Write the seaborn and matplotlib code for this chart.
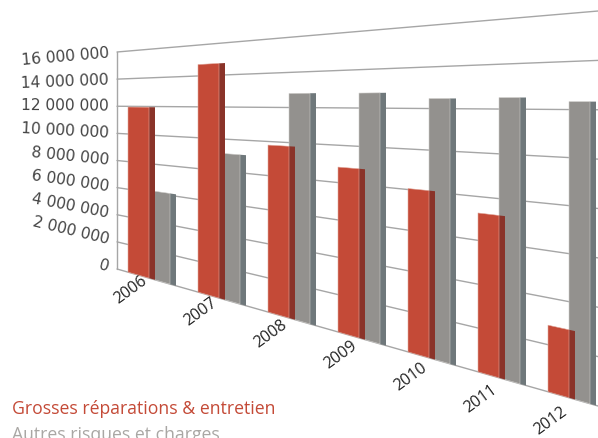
import math
import matplotlib
matplotlib.use("Agg")
import matplotlib.pyplot as plt
import matplotlib.transforms as mtransforms
from matplotlib.patches import Rectangle
import pandas as pd
import seaborn as sns

years = ["2006", "2007", "2008", "2009", "2010", "2011", "2012"]
reparations = [11950000, 14740000, 9790000, 8830000, 8050000, 7250000, 2830000]
autres = [6130000, 9100000, 12800000, 12780000, 12480000, 12510000, 12330000]
grid_values = [0, 2000000, 4000000, 6000000, 8000000, 10000000, 12000000, 14000000, 16000000]
grid_labels = ["0", "2 000 000", "4 000 000", "6 000 000", "8 000 000",
               "10 000 000", "12 000 000", "14 000 000", "16 000 000"]

RED, RED_SIDE, RED_EDGE = "#C44A37", "#8A3329", "#E2A99D"
GREY, GREY_SIDE, GREY_EDGE = "#93918E", "#6F787B", "#CFCDCA"
GRID = "#A6A6A6"
W, H = 598, 439


class Perspective(mtransforms.Transform):
    """Category position and value to pixels on the receding back wall."""
    input_dims = 2
    output_dims = 2
    is_separable = False
    has_inverse = False

    def transform_non_affine(self, values):
        out = values.copy().astype(float)
        px = 149 + 70 * values[:, 0]
        bottom = 270 + 0.2848 * (px - 117)
        top = 53 - 0.0852 * (px - 117)
        out[:, 0] = px
        out[:, 1] = H - (bottom - values[:, 1] / 16000000 * (bottom - top))
        return out


wall = Perspective()

sns.set_theme(style="white")
fig = plt.figure(figsize=(W / 100, H / 100), dpi=100)
ax = fig.add_axes([0, 0, 1, 1])

df = pd.DataFrame({
    "year": years * 2,
    "value": reparations + autres,
    "serie": ["Grosses réparations & entretien"] * 7 + ["Autres risques et charges"] * 7,
})
sns.barplot(data=df, x="year", y="value", hue="serie", palette=[RED, GREY],
            width=0.6, gap=0, saturation=1, legend=False, ax=ax)

# bars go on the wall, each one gets a darker side face
side = 6 / 70
for container, side_col, edge_col, z in [(ax.containers[0], RED_SIDE, RED_EDGE, 3),
                                         (ax.containers[1], GREY_SIDE, GREY_EDGE, 2)]:
    for bar in container:
        bar.set_transform(wall)
        bar.set_zorder(z + 0.1)
        bar.set_edgecolor(edge_col)
        bar.set_linewidth(0.4)
        bar.set_clip_on(False)
        face = Rectangle((bar.get_x() + bar.get_width(), 0), side, bar.get_height(),
                         facecolor=side_col, edgecolor="none", transform=wall,
                         zorder=z, clip_on=False)
        ax.add_patch(face)

left, right = (117 - 149) / 70, (598 - 149) / 70
for v in grid_values:
    ax.plot([left, right], [v, v], color=GRID, lw=1, transform=wall, zorder=1, clip_on=False)
ax.plot([left, left], [0, 16000000], color=GRID, lw=1, transform=wall, zorder=1, clip_on=False)

# value labels lean with their gridline
label_x = (109 - 149) / 70
for v, text in zip(grid_values, grid_labels):
    slope = 0.2848 - v / 16000000 * 0.37
    ax.text(label_x, v + 60000, text, transform=wall, ha="right", va="center",
            rotation=-math.degrees(math.atan(slope)), rotation_mode="anchor",
            fontsize=11.2, family="DejaVu Sans", color="#444444", clip_on=False)

for i, year in enumerate(years):
    ax.text(i - 18 / 70, -1150000, year, transform=wall, ha="center", va="center",
            rotation=36, rotation_mode="anchor", fontsize=11.5,
            family="Open Sans", color="#222222", clip_on=False)

ax.set_xlim(-0.5, 6.5)
ax.set_ylim(0, 16000000)
ax.set_axis_off()

fig.text(12 / W, 1 - 414 / H, "Grosses réparations & entretien", color=RED,
         fontsize=12.7, family="Open Sans", ha="left", va="baseline")
fig.text(12 / W, 1 - 440 / H, "Autres risques et charges", color="#A9A7A4",
         fontsize=12.7, family="Open Sans", ha="left", va="baseline")

fig.savefig("out.png", dpi=100)
